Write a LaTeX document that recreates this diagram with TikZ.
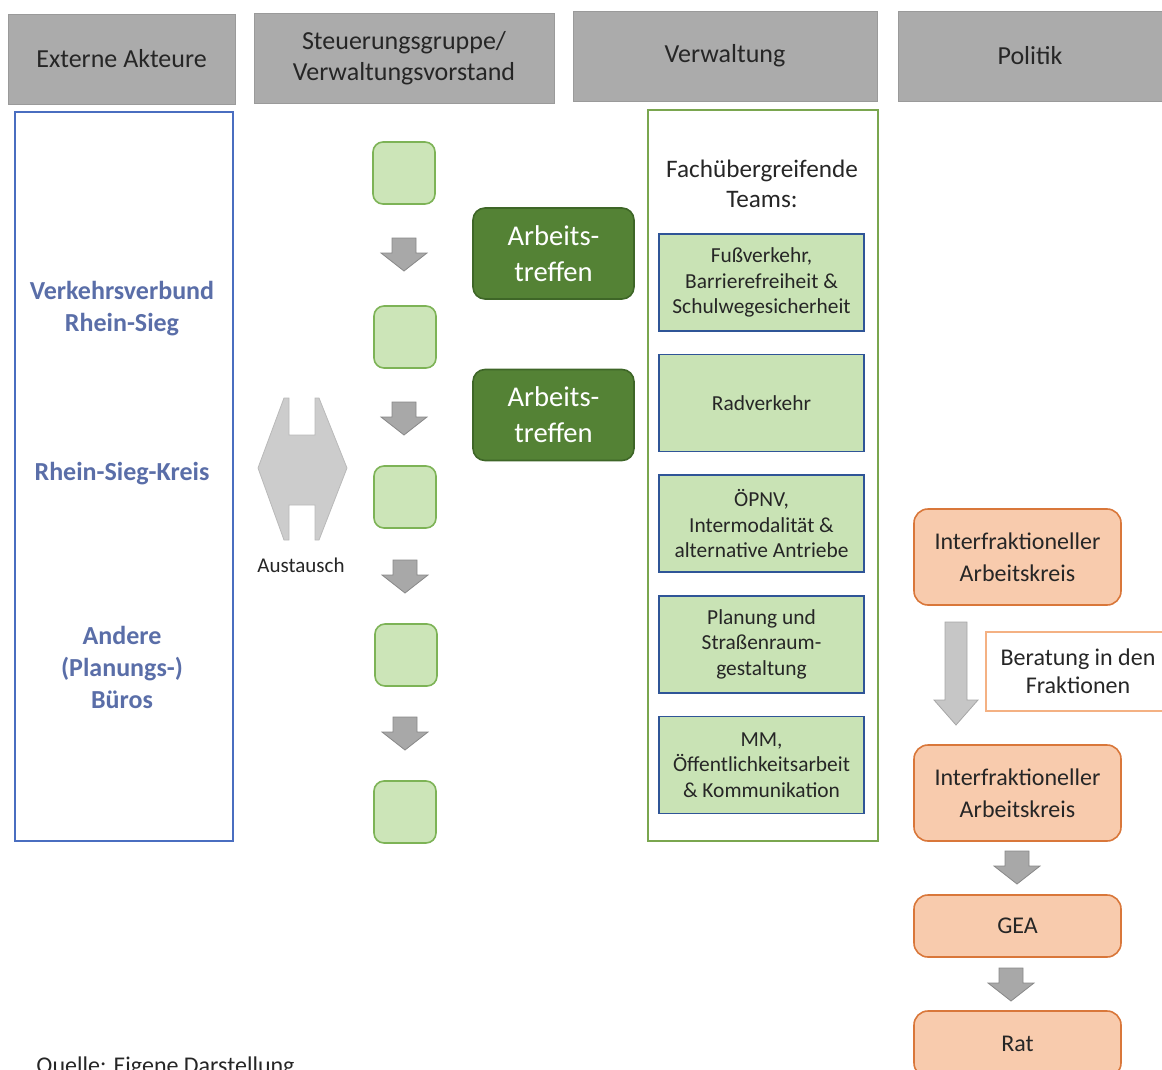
\documentclass[tikz,border=0pt]{standalone}
\usepackage{fontspec}
\setmainfont{Carlito}
\usetikzlibrary{positioning}

\definecolor{headgray}{HTML}{ABABAB}
\definecolor{actorblue}{HTML}{4A6EC0}
\definecolor{actortext}{HTML}{5A6EA8}
\definecolor{stepfill}{HTML}{CCE5B8}
\definecolor{stepedge}{HTML}{7DB356}
\definecolor{meetfill}{HTML}{548235}
\definecolor{meetedge}{HTML}{3E6627}
\definecolor{adminedge}{HTML}{7AA64F}
\definecolor{teamfill}{HTML}{C9E3B5}
\definecolor{teamedge}{HTML}{2F5597}
\definecolor{polfill}{HTML}{F8CBAD}
\definecolor{poledge}{HTML}{D9773A}
\definecolor{notedge}{HTML}{F4B183}
\definecolor{arrowgray}{HTML}{A8A8A8}
\definecolor{arrowedge}{HTML}{888888}

\begin{document}
\begin{tikzpicture}[
                x = 0.5pt, y = -0.5pt,
                header/.style = {
                    fill = headgray,
                    draw = headgray!90!black,
                    line width = 0.3pt,
                    minimum height = 45pt,
                    align = center,
                    inner sep = 0pt,
                    text = black!85,
                    font = \fontsize{13}{15.5}\selectfont
                },
                actor/.style = {
                    align = center,
                    text = actortext,
                    font = \fontsize{13}{16}\selectfont\bfseries
                },
                stepbox/.style = {
                    draw = stepedge,
                    fill = stepfill,
                    line width = 0.8pt,
                    rounded corners = 5pt,
                    minimum size = 31pt
                },
                meeting/.style = {
                    draw = meetedge,
                    fill = meetfill,
                    line width = 0.8pt,
                    rounded corners = 6pt,
                    minimum width = 80.5pt,
                    minimum height = 45.5pt,
                    align = center,
                    text = white,
                    font = \fontsize{14.3}{18}\selectfont
                },
                team/.style = {
                    draw = teamedge,
                    fill = teamfill,
                    line width = 0.8pt,
                    minimum width = 102.5pt,
                    minimum height = 48.5pt,
                    align = center,
                    inner sep = 0pt,
                    text = black!85,
                    font = \fontsize{10.7}{12.8}\selectfont
                },
                gremium/.style = {
                    draw = poledge,
                    fill = polfill,
                    line width = 0.8pt,
                    rounded corners = 7pt,
                    minimum width = 103.5pt,
                    align = center,
                    text = black!85,
                    font = \fontsize{12}{16}\selectfont
                },
                grayarrow/.pic = {
                    \filldraw[fill=arrowgray, draw=arrowedge, line width=0.4pt]
                        (-12,-16) -- (12,-16) -- (12,-1) -- (23,-1) -- (0,17) -- (-23,-1) -- (-12,-1) -- cycle;
                },
                node distance = {11pt}
            ]

            \useasboundingbox (0,0) rectangle (1162,1070);
            \clip (0,0) rectangle (1162,1070);

            % column heads
            \node[header, minimum width=113.5pt] (h1) at (121.5,59) {Externe Akteure};
            \node[header, minimum width=150pt] (h2) at (404,58) {Steuerungsgruppe/\\Verwaltungsvorstand};
            \node[header, minimum width=152pt] (h3) at (725,56) {Verwaltung};
            \node[header, minimum width=132pt] (h4) at (1030,56) {Politik};

            % external actors
            \node[draw=actorblue, line width=0.9pt, minimum width=109pt, minimum height=364.5pt] (actors) at (124,476.5) {};
            \node[actor] (vrs) at (122,309) {Verkehrsverbund\\Rhein-Sieg};
            \node[actor] (rsk) at (122,474) {Rhein-Sieg-Kreis};
            \node[actor] (buero) at (122,667) {Andere\\(Planungs-)\\Büros};

            % exchange
            \filldraw[fill=gray!40, draw=gray!55, line width=0.4pt]
                (258,468) -- (284,398) -- (289,398) -- (289,435) -- (315,435) -- (315,398) -- (319,398) -- (347,468)
                -- (319,540) -- (315,540) -- (315,505) -- (289,505) -- (289,540) -- (284,540) -- cycle;
            \node[font=\fontsize{10.5}{12}\selectfont, text=black!85] (exch) at (301,565) {Austausch};

            % steering group steps
            \node[stepbox] (s1) at (404,173) {};
            \node[stepbox] (s2) at (405,337) {};
            \node[stepbox] (s3) at (405,497) {};
            \node[stepbox] (s4) at (406,655) {};
            \node[stepbox] (s5) at (405,812) {};

            \pic at (404,254) {grayarrow};
            \pic at (404,418) {grayarrow};
            \pic at (405,576) {grayarrow};
            \pic at (405,733) {grayarrow};

            \node[meeting] (m1) at (553.5,253.5) {Arbeits-\\treffen};
            \node[meeting] (m2) at (553.5,415) {Arbeits-\\treffen};

            % administration
            \node[draw=adminedge, line width=0.9pt, minimum width=115pt, minimum height=365.5pt] (admin) at (763,475.5) {};
            \node[align=center, text=black!85, font=\fontsize{12.6}{15}\selectfont] (teams) at (762,184) {Fachübergreifende\\Teams:};

            \node[team] (t1) at (761.5,282.5) {Fußverkehr,\\Barrierefreiheit \&\\Schulwegesicherheit};
            \node[team, below=of t1] (t2) {Radverkehr};
            \node[team, below=of t2] (t3) {ÖPNV,\\Intermodalität \&\\alternative Antriebe};
            \node[team, below=of t3] (t4) {Planung und\\Straßenraum-\\gestaltung};
            \node[team, below=of t4] (t5) {MM,\\Öffentlichkeitsarbeit\\\& Kommunikation};

            % politics
            \node[gremium, minimum height=48pt] (ik1) at (1017.5,557) {Interfraktioneller\\Arbeitskreis};
            \node[gremium, minimum height=48pt] (ik2) at (1017.5,793) {Interfraktioneller\\Arbeitskreis};
            \node[gremium, minimum height=31pt] (gea) at (1017.5,926) {GEA};
            \node[gremium, minimum height=33pt] (rat) at (1017.5,1044) {Rat};

            \filldraw[fill=gray!45, draw=gray!70, line width=0.4pt]
                (945,622) -- (967,622) -- (967,700) -- (978,700) -- (956,725) -- (934,700) -- (945,700) -- cycle;
            \node[draw=notedge, line width=0.6pt, fill=white, minimum width=92pt, minimum height=39.5pt,
                  align=center, text=black!85, font=\fontsize{12}{14}\selectfont] (beratung) at (1078,671.5)
                  {Beratung in den\\Fraktionen};

            \pic at (1017,867) {grayarrow};
            \pic at (1011,984) {grayarrow};

            \node[anchor=base west, text=black!85, font=\fontsize{12}{14}\selectfont, inner sep=0pt] (quelle) at (36,1073) {Quelle: Eigene Darstellung};

         \end{tikzpicture}
\end{document}
